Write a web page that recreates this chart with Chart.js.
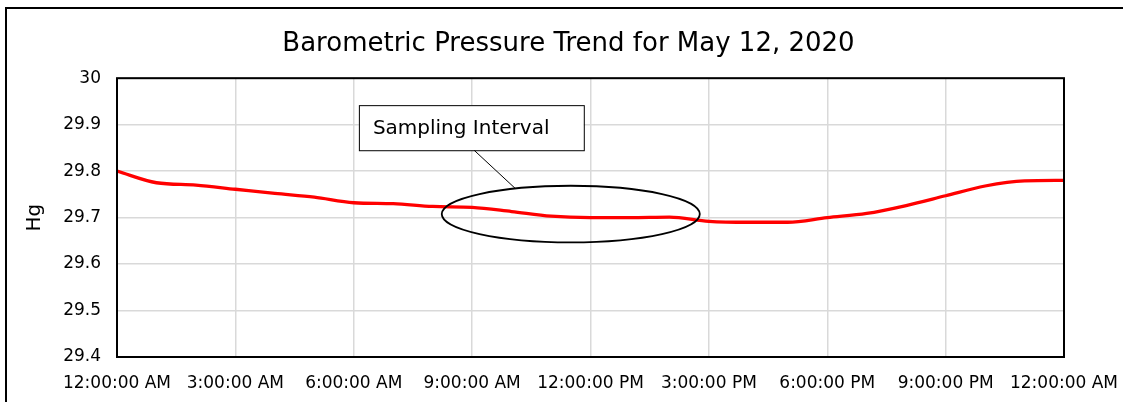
<!DOCTYPE html>
<html lang="en">
<head>
  <meta charset="UTF-8">
  <title>Barometric Pressure Trend</title>
  <script src="https://cdn.jsdelivr.net/npm/chart.js"></script>
  <style>
    html, body { margin: 0; padding: 0; background: #fff; overflow: hidden; }
    #wrap { position: relative; width: 1123px; height: 402px; }
  </style>
</head>
<body>
  <div id="wrap">
    <canvas id="pressureChart" width="1123" height="402"></canvas>
  </div>

  <script>
    // hours since midnight and pressure readings (inHg)
    const hours = [0, 1, 2, 3, 4, 5, 6, 7, 8, 9, 10, 11, 12, 13, 14, 15, 16, 17, 18, 19, 20, 21, 22, 23, 24];
    const pressure = [29.800, 29.775, 29.770, 29.761, 29.752, 29.744, 29.732, 29.730, 29.724, 29.722, 29.713, 29.703,
                      29.700, 29.700, 29.701, 29.692, 29.690, 29.690, 29.700, 29.709, 29.726, 29.747, 29.768, 29.779, 29.780];
    const xTickLabels = ['12:00:00 AM', '3:00:00 AM', '6:00:00 AM', '9:00:00 AM', '12:00:00 PM',
                         '3:00:00 PM', '6:00:00 PM', '9:00:00 PM', '12:00:00 AM'];
    const FONT = '"DejaVu Sans", sans-serif';

    // draws the outer frame, plot border, and the "Sampling Interval" callout
    const extras = {
      id: 'extras',
      afterDraw(chart) {
        const ctx = chart.ctx;
        const xs = chart.scales.x, ys = chart.scales.y;
        const a = chart.chartArea;
        ctx.save();

        // plot area border
        ctx.strokeStyle = '#000';
        ctx.lineWidth = 2;
        ctx.strokeRect(a.left, a.top, a.right - a.left, a.bottom - a.top);

        // outer frame
        ctx.strokeRect(6, 8, 1200, 500);

        // ellipse around the sampling interval
        const cx = xs.getPixelForValue(11.5), cy = ys.getPixelForValue(29.7075);
        const rx = xs.getPixelForValue(11.5 + 3.27) - cx;
        const ry = ys.getPixelForValue(29.7075) - ys.getPixelForValue(29.7075 + 0.061);
        ctx.beginPath();
        ctx.ellipse(cx, cy, rx, ry, 0, 0, Math.PI * 2);
        ctx.lineWidth = 1.8;
        ctx.stroke();

        // leader line
        ctx.beginPath();
        ctx.moveTo(xs.getPixelForValue(9.05), ys.getPixelForValue(29.845));
        ctx.lineTo(xs.getPixelForValue(10.09), ys.getPixelForValue(29.763));
        ctx.lineWidth = 1;
        ctx.stroke();

        // text box
        const bx = xs.getPixelForValue(6.13), by = ys.getPixelForValue(29.942);
        const bw = xs.getPixelForValue(11.83) - bx, bh = ys.getPixelForValue(29.845) - by;
        ctx.fillStyle = '#fff';
        ctx.fillRect(bx, by, bw, bh);
        ctx.lineWidth = 1;
        ctx.strokeRect(bx + 0.5, by + 0.5, bw, bh);
        ctx.fillStyle = '#000';
        ctx.font = '20px ' + FONT;
        ctx.textBaseline = 'middle';
        ctx.textAlign = 'left';
        ctx.fillText('Sampling Interval', bx + 14, by + bh / 2 + 1);

        ctx.restore();
      }
    };

    const ctx = document.getElementById('pressureChart').getContext('2d');
    const myChart = new Chart(ctx, {
      type: 'line',
      data: {
        datasets: [{
          label: 'Pressure',
          data: hours.map((h, i) => ({ x: h, y: pressure[i] })),
          borderColor: '#ff0000',
          borderWidth: 3.3,
          pointRadius: 0,
          cubicInterpolationMode: 'monotone',
          fill: false
        }]
      },
      options: {
        responsive: false,
        animation: false,
        layout: { padding: { left: 14, right: 0, top: 0, bottom: 0 } },
        plugins: {
          legend: { display: false },
          tooltip: { enabled: false },
          title: {
            display: true,
            text: 'Barometric Pressure Trend for May 12, 2020',
            color: '#000',
            font: { family: FONT, size: 26, weight: 'normal', lineHeight: 1.2 },
            padding: { top: 29, bottom: 18 }
          }
        },
        scales: {
          x: {
            type: 'linear',
            min: 0,
            max: 24,
            afterFit(scale) {
              scale.height = 45;
              scale.paddingLeft = 0;
              scale.paddingRight = 0;
            },
            afterBuildTicks(scale) {
              scale.ticks = xTickLabels.map((_, i) => ({ value: i * 3 }));
            },
            ticks: {
              autoSkip: false,
              maxRotation: 0,
              color: '#000',
              font: { family: FONT, size: 17 },
              padding: 16,
              callback: (v) => xTickLabels[Math.round(v / 3)]
            },
            grid: { color: '#d9d9d9', lineWidth: 1.5, drawTicks: false },
            border: { display: false }
          },
          y: {
            min: 29.4,
            max: 30,
            afterFit(scale) { scale.width = 103; },
            ticks: {
              stepSize: 0.1,
              color: '#000',
              font: { family: FONT, size: 17 },
              padding: 16,
              callback: (v) => String(Math.round(v * 10) / 10)
            },
            grid: { color: '#d9d9d9', lineWidth: 1.5, drawTicks: false },
            border: { display: false },
            title: {
              display: true,
              text: 'Hg',
              color: '#000',
              font: { family: FONT, size: 20 },
              padding: { top: 9, bottom: 0 }
            }
          },
          yRight: {
            position: 'right',
            display: true,
            afterFit(scale) { scale.width = 59; },
            ticks: { display: false },
            grid: { display: false, drawTicks: false },
            border: { display: false }
          }
        }
      },
      plugins: [extras]
    });
  </script>
</body>
</html>
